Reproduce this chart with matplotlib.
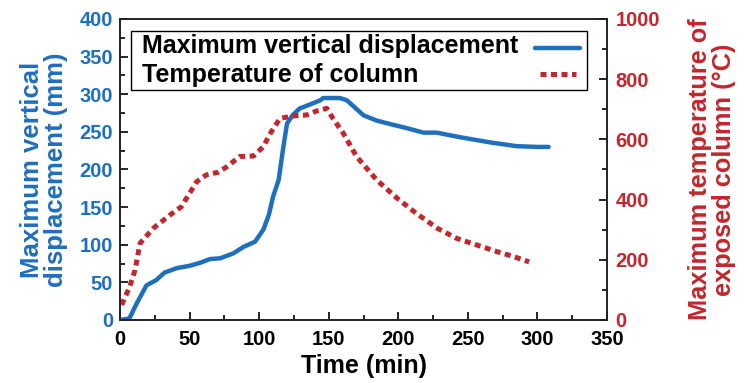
import matplotlib.pyplot as plt
from matplotlib.patches import Rectangle
from matplotlib.lines import Line2D
from matplotlib.ticker import MultipleLocator

plt.rcParams['font.family'] = ['Liberation Sans', 'DejaVu Sans']
plt.rcParams['font.weight'] = 'bold'

BLUE = "#1f6fbf"
RED = "#c1272d"

# Desplazamiento vertical máximo (mm)
disp_time = [0, 6.7, 12, 19, 26, 32, 41, 50, 57.5, 64.7, 72, 81.5, 88.6, 97, 103,
             107, 110, 114, 117, 120, 124, 129, 136, 144, 146, 152, 158, 163, 169,
             175, 184.5, 195, 206, 218, 227.6, 244, 266, 285, 300, 308]
disp_vals = [0, 2, 22, 46, 53, 63, 69, 72, 76, 81, 82, 88.6, 97, 104, 120,
             140, 164, 186, 225, 261, 272, 281, 286, 292, 295, 295, 295, 292, 282,
             272, 265, 260, 255, 249, 249, 243, 236, 231, 230, 230]

# Temperatura máxima de la columna expuesta (°C)
temp_time = [1.2, 7, 10.8, 14.4, 24, 36, 44, 50, 55, 62, 70.7, 76.7, 86, 96, 103,
             108, 115, 124.6, 134, 141, 148.6, 153, 160.5, 170, 184.5, 199, 213,
             228, 242, 256.5, 271, 282, 294]
temp_vals = [50, 111, 166, 255, 305, 349, 376, 421, 459, 482, 491, 509, 543, 545, 576,
             620, 670, 678, 681, 694, 703, 670, 620, 543, 465, 405, 354,
             305, 271, 249, 227, 212, 193]

labels = ["Maximum vertical displacement", "Temperature of column"]

fig = plt.figure(figsize=(7.44, 3.83), dpi=100)
ax = fig.add_axes([0.1613, 0.1645, 0.6546, 0.7859])
ax2 = ax.twinx()

disp_style = dict(color=BLUE, lw=3.2, solid_capstyle='round')
temp_style = dict(color=RED, lw=3.6, dashes=(1.2, 0.9))

ax.plot(disp_time, disp_vals, **disp_style)
ax2.plot(temp_time, temp_vals, **temp_style)

ax.set_xlim(0, 350)
ax.set_ylim(0, 400)
ax2.set_ylim(0, 1000)

ax.xaxis.set_major_locator(MultipleLocator(50))
ax.xaxis.set_minor_locator(MultipleLocator(25))
ax.yaxis.set_major_locator(MultipleLocator(50))
ax.yaxis.set_minor_locator(MultipleLocator(25))
ax2.yaxis.set_major_locator(MultipleLocator(200))
ax2.yaxis.set_minor_locator(MultipleLocator(100))

ax.tick_params(axis='both', which='both', direction='in', labelsize=14.5, width=1.2)
ax.tick_params(axis='both', which='major', length=6, pad=5)
ax.tick_params(axis='x', which='major', pad=7)
ax.tick_params(axis='both', which='minor', length=3.5)
ax.tick_params(axis='y', which='both', labelcolor=BLUE, color='black')
ax2.tick_params(axis='y', which='both', direction='in', labelsize=14.5,
                labelcolor=RED, color='black', width=1.2)
ax2.tick_params(axis='y', which='major', length=6, pad=6)
ax2.tick_params(axis='y', which='minor', length=3.5)

for a in (ax, ax2):
    for s in a.spines.values():
        s.set_linewidth(1.2)
        s.set_color('#222222')

ax.set_xlabel("Time (min)", fontsize=18, fontweight='bold', labelpad=4)
ax.set_ylabel("Maximum vertical\ndisplacement (mm)", fontsize=18.5, fontweight='bold',
              color=BLUE, labelpad=8, linespacing=1.0)
ax2.set_ylabel("Maximum temperature of\nexposed column (°C)", fontsize=18.3,
               fontweight='bold', color=RED, labelpad=20, linespacing=1.0)

# Leyenda con la muestra a la derecha y el texto alineado a la izquierda
ax2.add_patch(Rectangle((0.022, 0.764), 0.937, 0.196, transform=ax.transAxes,
                        facecolor='white', edgecolor='black', lw=1.0, zorder=5))
ax2.text(0.045, 0.886, labels[0], transform=ax.transAxes, fontsize=18,
         fontweight='bold', va='baseline', ha='left', zorder=6)
ax2.text(0.045, 0.792, labels[1], transform=ax.transAxes, fontsize=18,
         fontweight='bold', va='baseline', ha='left', zorder=6)
ax2.add_line(Line2D([0.852, 0.945], [0.905, 0.905], transform=ax.transAxes,
                    zorder=6, **disp_style))
ax2.add_line(Line2D([0.862, 0.936], [0.817, 0.817], transform=ax.transAxes,
                    zorder=6, **temp_style))

fig.savefig("out.png", dpi=100)
